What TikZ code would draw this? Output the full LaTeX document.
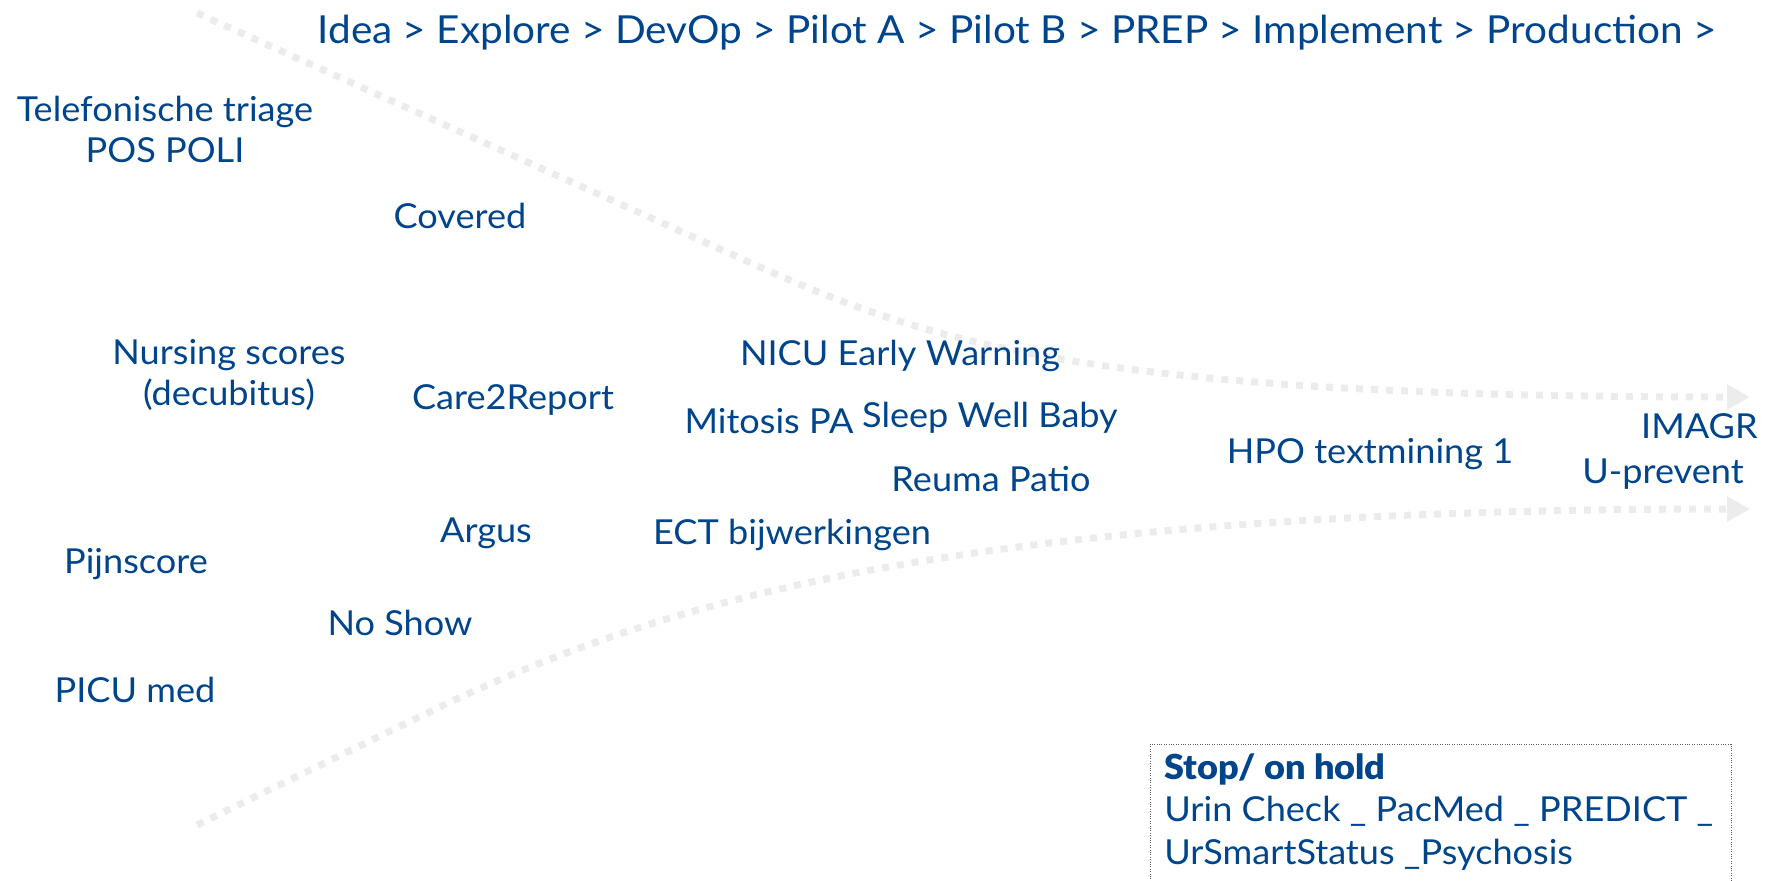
\documentclass[tikz,border=0pt]{standalone}
\usepackage{fontspec}
\setmainfont{Lato}[FakeStretch=1.05,BoldFont={* Black}]
\usetikzlibrary{arrows.meta, positioning, calc}

\definecolor{umcblue}{RGB}{0,69,140}
\definecolor{flowgray}{RGB}{236,236,236}
\definecolor{framegray}{RGB}{95,95,95}

\tikzset{
	proj/.style={text=umcblue,font=\fontsize{17.2}{20.5}\selectfont,inner sep=0pt,anchor=base,align=center},
	flow/.style={draw=flowgray,line width=3.5pt,dash pattern=on 3.5pt off 4pt,-{Triangle[length=11.5pt,width=12pt,fill=flowgray]}},
	holdframe/.style={draw=framegray,line width=0.5pt,dash pattern=on 0.5pt off 0.7pt}
}

\begin{document}
\begin{tikzpicture}[x=0.5pt,y=-0.5pt]
		\useasboundingbox (0,0) rectangle (1767,880);
		\clip (0,0) rectangle (1767,880);
		
		% funnel
		\coordinate(topstart) at (197,13);
		\coordinate(topbend) at (700,240);
		\coordinate(topend) at (1750,397);
		\coordinate(botstart) at (197,825);
		\coordinate(botbend) at (450,702);
		\coordinate(botend) at (1750,509);
		\draw[flow] (topstart) -- (topbend) .. controls (900,330) and (1020,397) .. (topend);
		\draw[flow] (botstart) -- (botbend) .. controls (660,605) and (950,509) .. (botend);
		
		\node(stages) at (1017,43.5)[proj,font=\fontsize{19.3}{22}\selectfont]{Idea > Explore > DevOp > Pilot A > Pilot B > PREP > Implement > Production >};
		
		% multi-line nodes sit on their last line
		\node(triage) at (165,162)[proj]{Telefonische triage\\POS POLI};
		\node(covered) at (460,228)[proj]{Covered};
		\node(nursing) at (229,405)[proj]{Nursing scores\\(decubitus)};
		\node(care) at (513,409)[proj]{Care2Report};
		\node(nicu) at (900,365)[proj]{NICU Early Warning};
		\node(mitosis) at (769,433)[proj]{Mitosis PA};
		\node(sleep) at (990,427)[proj]{Sleep Well Baby};
		\node(reuma) at (991,491)[proj]{Reuma Patio};
		\node(hpo) at (1370,463)[proj]{HPO textmining 1};
		\node(imagr) at (1758,438)[proj,anchor=base east]{IMAGR};
		\node(uprevent) at (1663,483)[proj]{U-prevent};
		\node(argus) at (486,542)[proj]{Argus};
		\node(ect) at (792,544)[proj]{ECT bijwerkingen};
		\node(pijn) at (136,573)[proj]{Pijnscore};
		\node(noshow) at (400,635)[proj]{No Show};
		\node(picu) at (135,702)[proj]{PICU med};
		
		% stopped projects
		\node(hold) at (1164,864)[proj,anchor=base west,align=left,font=\fontsize{17.2}{21.25}\selectfont]{\textbf{Stop/ on hold}\\Urin Check \_ PacMed \_ PREDICT \_\\UrSmartStatus \_Psychosis};
		\draw[holdframe] (1150,744) rectangle (1731,900);
		
	\end{tikzpicture}
\end{document}
